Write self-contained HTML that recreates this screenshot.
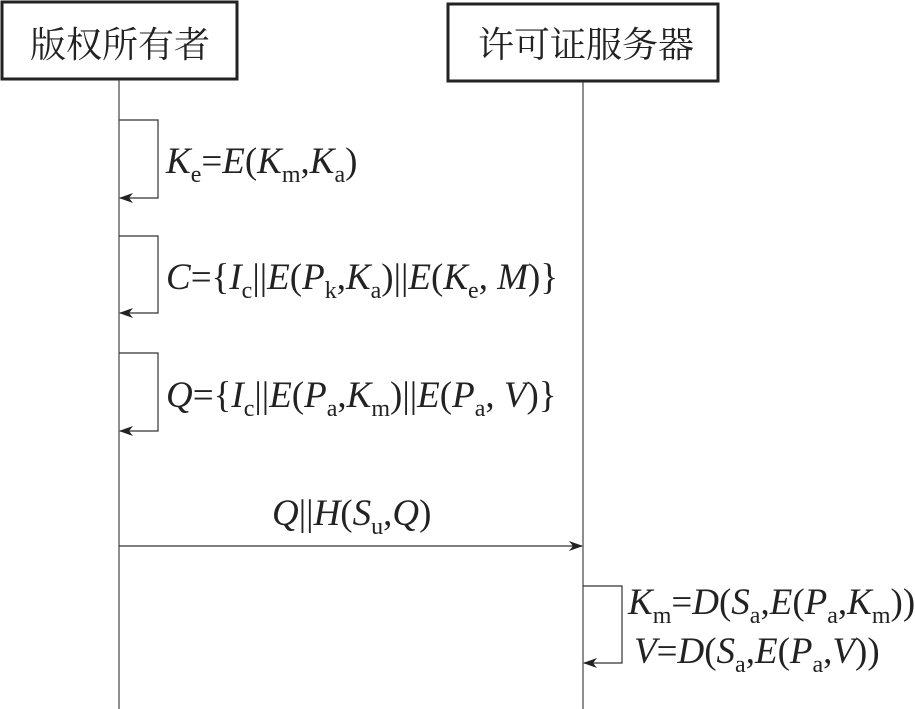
<!DOCTYPE html>
<html><head><meta charset="utf-8"><style>
html,body{margin:0;padding:0;background:#fff;width:915px;height:709px;overflow:hidden}
text{font-family:"Liberation Serif","Noto Serif CJK SC",serif;fill:#222}
.m{font-size:37px}
.i{font-style:italic}
.s{font-size:24px}
.cjk{font-family:"Liberation Serif","Noto Serif CJK SC","Noto Sans CJK SC",serif;font-size:36px}
</style></head><body>
<svg width="915" height="709" xmlns="http://www.w3.org/2000/svg">
<defs><marker id="a" markerWidth="14" markerHeight="10" refX="13" refY="5" orient="auto" markerUnits="userSpaceOnUse"><path d="M0,0 L14,5 L0,10 L4,5 Z" fill="#222"/></marker></defs>
<rect x="2" y="2" width="235" height="77" fill="none" stroke="#222" stroke-width="3"/>
<rect x="448" y="4" width="270" height="77" fill="none" stroke="#222" stroke-width="3"/>
<text class="cjk" x="120" y="57" text-anchor="middle">版权所有者</text>
<text class="cjk" x="586" y="57" text-anchor="middle">许可证服务器</text>
<line x1="119" y1="80" x2="119" y2="709" stroke="#444" stroke-width="1.2"/>
<line x1="583" y1="82" x2="583" y2="709" stroke="#444" stroke-width="1.2"/>
<g fill="none" stroke="#333" stroke-width="1.2">
<polyline points="119,120 158,120 158,198 120,198" marker-end="url(#a)"/>
<polyline points="119,236 158,236 158,313 120,313" marker-end="url(#a)"/>
<polyline points="119,353 158,353 158,431 120,431" marker-end="url(#a)"/>
<line x1="119" y1="546" x2="582" y2="546" marker-end="url(#a)"/>
<polyline points="583,586 622,586 622,663 584,663" marker-end="url(#a)"/>
</g>
<text class="m" x="166" y="173"><tspan class="i">K</tspan><tspan class="s" dy="9">e</tspan><tspan dy="-9">=</tspan><tspan class="i">E</tspan>(<tspan class="i">K</tspan><tspan class="s" dy="9">m</tspan><tspan dy="-9">,</tspan><tspan class="i">K</tspan><tspan class="s" dy="9">a</tspan><tspan dy="-9">)</tspan></text>
<text class="m" x="166" y="289"><tspan class="i">C</tspan>={<tspan class="i">I</tspan><tspan class="s" dy="9">c</tspan><tspan dy="-9">||</tspan><tspan class="i">E</tspan>(<tspan class="i">P</tspan><tspan class="s" dy="9">k</tspan><tspan dy="-9">,</tspan><tspan class="i">K</tspan><tspan class="s" dy="9">a</tspan><tspan dy="-9">)||</tspan><tspan class="i">E</tspan>(<tspan class="i">K</tspan><tspan class="s" dy="9">e</tspan><tspan dy="-9">, </tspan><tspan class="i">M</tspan>)}</text>
<text class="m" x="166" y="407"><tspan class="i">Q</tspan>={<tspan class="i">I</tspan><tspan class="s" dy="9">c</tspan><tspan dy="-9">||</tspan><tspan class="i">E</tspan>(<tspan class="i">P</tspan><tspan class="s" dy="9">a</tspan><tspan dy="-9">,</tspan><tspan class="i">K</tspan><tspan class="s" dy="9">m</tspan><tspan dy="-9">)||</tspan><tspan class="i">E</tspan>(<tspan class="i">P</tspan><tspan class="s" dy="9">a</tspan><tspan dy="-9">, </tspan><tspan class="i">V</tspan>)}</text>
<text class="m" x="272" y="525"><tspan class="i">Q</tspan>||<tspan class="i">H</tspan>(<tspan class="i">S</tspan><tspan class="s" dy="9">u</tspan><tspan dy="-9">,</tspan><tspan class="i">Q</tspan>)</text>
<text class="m" x="628" y="614"><tspan class="i">K</tspan><tspan class="s" dy="9">m</tspan><tspan dy="-9">=</tspan><tspan class="i">D</tspan>(<tspan class="i">S</tspan><tspan class="s" dy="9">a</tspan><tspan dy="-9">,</tspan><tspan class="i">E</tspan>(<tspan class="i">P</tspan><tspan class="s" dy="9">a</tspan><tspan dy="-9">,</tspan><tspan class="i">K</tspan><tspan class="s" dy="9">m</tspan><tspan dy="-9">))</tspan></text>
<text class="m" x="634" y="663"><tspan class="i">V</tspan>=<tspan class="i">D</tspan>(<tspan class="i">S</tspan><tspan class="s" dy="9">a</tspan><tspan dy="-9">,</tspan><tspan class="i">E</tspan>(<tspan class="i">P</tspan><tspan class="s" dy="9">a</tspan><tspan dy="-9">,</tspan><tspan class="i">V</tspan>))</text>
</svg>
</body></html>
